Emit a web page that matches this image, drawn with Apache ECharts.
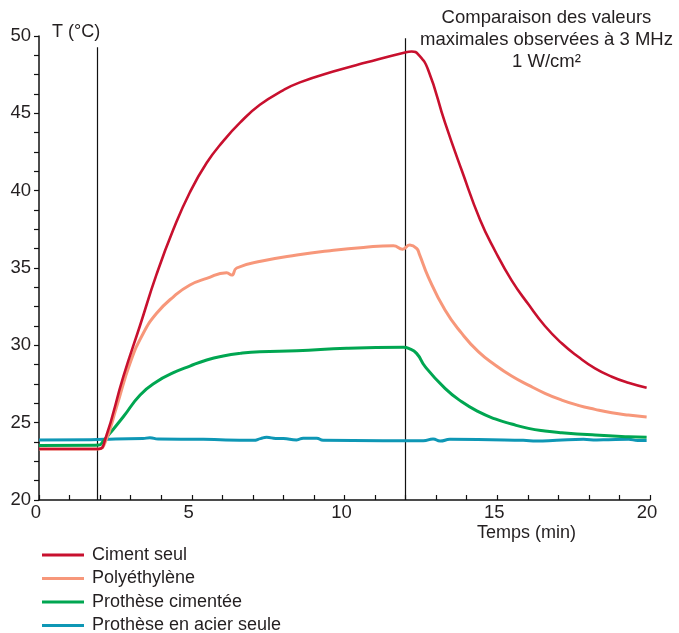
<!DOCTYPE html>
<html>
<head>
<meta charset="utf-8">
<script src="https://cdn.jsdelivr.net/npm/echarts@6/dist/echarts.min.js"></script>
<style>
html,body{margin:0;padding:0;background:#fff;}
#chart{width:679px;height:633px;}
</style>
</head>
<body>
<div id="chart"></div>
<script>
// ---- data ----
var seriesNames = ['Ciment seul', 'Polyéthylène', 'Prothèse cimentée', 'Prothèse en acier seule'];

var cimentSeul = [[0,23.3],[1.95,23.3],[2.16,23.88],[2.76,27.97],[3.31,31.3],[3.85,34.6],[4.4,37.5],[4.94,39.9],[5.49,41.8],[6.03,43.2],[6.58,44.4],[7.23,45.55],[8.0,46.5],[8.54,47.0],[9.63,47.7],[10.73,48.3],[11.98,48.94],[12.2,49.0],[12.42,48.8],[12.74,47.8],[13.29,44.4],[13.84,41.3],[14.44,38.1],[14.93,36.1],[15.47,34.2],[16.02,32.65],[16.56,31.25],[17.11,30.13],[17.65,29.26],[18.2,28.51],[18.75,27.97],[19.29,27.58],[19.89,27.26]];

var polyethylene = [[0,23.3],[1.95,23.3],[2.16,23.7],[2.54,26.03],[2.98,28.84],[3.41,30.77],[3.85,32.07],[4.4,33.14],[4.94,33.9],[5.49,34.33],[6.14,34.7],[6.31,34.54],[6.47,35.0],[7.3,35.45],[8.44,35.84],[9.53,36.12],[10.62,36.33],[11.6,36.44],[11.9,36.22],[12.14,36.48],[12.36,36.27],[12.45,35.9],[12.74,34.43],[13.29,32.28],[13.84,30.77],[14.38,29.59],[14.93,28.73],[15.47,28.02],[16.02,27.43],[16.56,26.9],[17.11,26.46],[17.65,26.12],[18.2,25.86],[18.75,25.64],[19.29,25.49],[19.89,25.37]];

var protheseCimentee = [[0,23.53],[1.95,23.55],[2.1,23.8],[2.32,24.31],[2.76,25.38],[3.31,26.79],[3.85,27.65],[4.4,28.23],[4.94,28.66],[5.49,29.05],[6.03,29.31],[6.58,29.48],[7.23,29.59],[8.44,29.65],[10.07,29.81],[11.93,29.87],[12.1,29.8],[12.36,29.48],[12.64,28.62],[13.29,27.22],[13.84,26.35],[14.38,25.71],[14.93,25.24],[15.47,24.91],[16.02,24.63],[16.56,24.46],[17.11,24.35],[18.2,24.2],[19.29,24.09],[19.89,24.05]];

var protheseAcier = [[0,23.88],[1.7,23.9],[2.5,23.95],[3.4,23.97],[3.63,24.03],[3.9,23.94],[5.38,23.92],[7.02,23.86],[7.25,23.97],[7.45,24.05],[7.75,23.98],[8.0,23.97],[8.43,23.88],[8.65,24.0],[9.09,23.99],[9.3,23.86],[11.26,23.83],[12.58,23.83],[12.9,23.94],[13.13,23.81],[13.45,23.92],[15.85,23.86],[16.29,23.81],[16.95,23.86],[17.82,23.92],[18.26,23.88],[18.64,23.9],[19.3,23.92],[19.6,23.85],[19.89,23.85]];

var markers = [{x:1.9, top:49.28}, {x:12, top:49.86}];

var titleLines = ['Comparaison des valeurs', 'maximales observées à 3 MHz', '1 W/cm²'];
var yAxisName = 'T (°C)';
var xAxisName = 'Temps (min)';

// ---- chart ----
var colors = ['#c8102e', '#f7977a', '#00a651', '#0e97b5'];
var widths = [2.6, 3, 3, 3];
var dataSets = [cimentSeul, polyethylene, protheseCimentee, protheseAcier];
var FONT = '"Liberation Sans", Arial, Helvetica, sans-serif';
var TXT = '#231f20';

var series = dataSets.map(function (d, i) {
  return {
    name: seriesNames[i],
    type: 'line',
    data: d,
    smooth: 0.5,
    symbol: 'none',
    z: 10 - i,
    lineStyle: {color: colors[i], width: widths[i]},
    itemStyle: {color: colors[i]}
  };
});
series.push({
  name: 'markers',
  type: 'line',
  data: [],
  silent: true,
  markLine: {
    silent: true,
    symbol: 'none',
    label: {show: false},
    lineStyle: {color: '#111', width: 1.2, type: 'solid'},
    data: markers.map(function (m) {
      return [{coord: [m.x, 20]}, {coord: [m.x, m.top]}];
    })
  }
});

var chart = echarts.init(document.getElementById('chart'), null, {renderer: 'canvas'});
chart.setOption({
  animation: false,
  backgroundColor: '#fff',
  textStyle: {fontFamily: FONT},
  grid: {left: 39, right: 29, top: 36, bottom: 133, containLabel: false},
  xAxis: {
    type: 'value', min: 0, max: 20, interval: 5,
    axisLine: {show: true, onZero: false, lineStyle: {color: '#111', width: 1.5}},
    axisTick: {show: true, inside: true, length: 5, lineStyle: {color: '#111', width: 1.2}},
    minorTick: {show: true, splitNumber: 5, length: 5, lineStyle: {color: '#111', width: 1.2}},
    splitLine: {show: false},
    axisLabel: {fontSize: 18.5, color: TXT, margin: 3, fontFamily: FONT, padding: [0, 6, 0, 0]}
  },
  yAxis: {
    type: 'value', min: 20, max: 50, interval: 5,
    name: yAxisName,
    nameLocation: 'end',
    nameGap: 4,
    nameTextStyle: {fontSize: 18, color: TXT, fontFamily: FONT, align: 'left', verticalAlign: 'middle', padding: [0, 0, 0, 13]},
    axisLine: {show: true, onZero: false, lineStyle: {color: '#111', width: 1.5}},
    axisTick: {show: true, inside: false, length: 5, lineStyle: {color: '#111', width: 1.2}},
    minorTick: {show: true, splitNumber: 4, length: 5, lineStyle: {color: '#111', width: 1.2}},
    splitLine: {show: false},
    axisLabel: {fontSize: 18.5, color: TXT, margin: 8, fontFamily: FONT, padding: [0, 0, 8, 0]}
  },
  legend: {
    orient: 'vertical',
    left: 42,
    top: 546,
    width: 400,
    height: 140,
    padding: 0,
    icon: 'rect',
    itemWidth: 42,
    itemHeight: 3,
    itemGap: 5.5,
    data: seriesNames,
    selectedMode: false,
    textStyle: {fontSize: 18, color: TXT, fontFamily: FONT, lineHeight: 16, padding: [0, 0, 0, 3]}
  },
  graphic: [
    {
      type: 'text', left: 420, top: 7, z: 100,
      style: {
        text: titleLines.join('\n'),
        textAlign: 'center', verticalAlign: 'top',
        fontSize: 18.5, lineHeight: 22, fill: TXT, fontFamily: FONT
      }
    },
    {
      type: 'text', left: 477, top: 524, z: 100,
      style: {text: xAxisName, fontSize: 18, fill: TXT, fontFamily: FONT}
    }
  ],
  series: series
});
</script>
</body>
</html>
